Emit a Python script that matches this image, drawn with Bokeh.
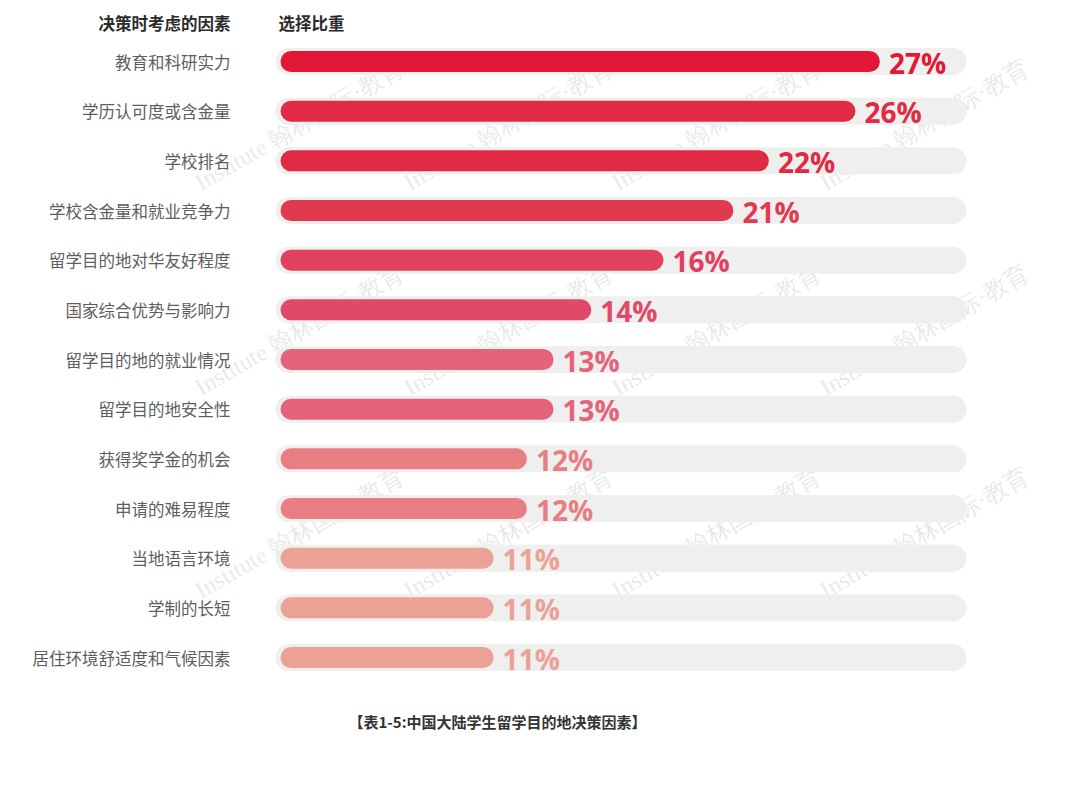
from bokeh.plotting import figure
from bokeh.models import Range1d, ColumnDataSource
from bokeh.core.properties import value
from bokeh.embed import file_html
from bokeh.resources import INLINE
import math

# ---------------- data ----------------
factors = ["教育和科研实力", "学历认可度或含金量", "学校排名", "学校含金量和就业竞争力",
           "留学目的地对华友好程度", "国家综合优势与影响力", "留学目的地的就业情况",
           "留学目的地安全性", "获得奖学金的机会", "申请的难易程度", "当地语言环境",
           "学制的长短", "居住环境舒适度和气候因素"]
pct_labels = ["27%", "26%", "22%", "21%", "16%", "14%", "13%", "13%", "12%", "12%", "11%", "11%", "11%"]
# bar lengths as drawn in the picture (percentage units)
bar_len = [27.0, 25.9, 22.0, 20.4, 17.25, 14.0, 12.3, 12.3, 11.1, 11.1, 9.6, 9.6, 9.6]
colors = ["#E31837", "#E12A43", "#E12A43", "#E03A51", "#E2405F", "#E04A68", "#E5637A",
          "#E5637A", "#E77E84", "#E77E84", "#EBA194", "#EBA194", "#EBA194"]
track_max = 30.9
header_left = "决策时考虑的因素"
header_right = "选择比重"
caption = "【表1-5:中国大陆学生留学目的地决策因素】"
watermark = "Institute 翰林国际·教育"

# ---------------- layout ----------------
W, H = 1080, 791
PX_PER_UNIT = 22.2
X0 = 280.0
ROW0, ROW_STEP = 61.0, 49.67

def xu(px):
    return (px - X0) / PX_PER_UNIT

def yu(px):
    return (px - ROW0) / ROW_STEP

p = figure(width=W, height=H, output_backend="svg", toolbar_location=None,
           x_range=Range1d(xu(0), xu(W)), y_range=Range1d(yu(H), yu(0)),
           min_border=0, min_border_left=0, min_border_right=0,
           min_border_top=0, min_border_bottom=0)
p.axis.visible = False
p.grid.visible = False
p.outline_line_color = None
p.background_fill_color = "white"
p.border_fill_color = "white"

rows = list(range(len(factors)))

# watermark (faint, behind everything) - only copies that fit inside the page
wm_x, wm_y = [], []
for r_px in [195, 400, 603]:
    for c_px in [203, 412, 620, 828]:
        wm_x.append(xu(c_px))
        wm_y.append(yu(r_px))
p.text(x=wm_x, y=wm_y, text=[watermark] * len(wm_x), angle=math.radians(30),
       text_font=value("Liberation Serif"), text_font_size="24px",
       text_color="#9a9a9a", text_alpha=0.22, text_baseline="bottom", text_align="left")

src = ColumnDataSource(dict(y=rows, factor=factors, lab=pct_labels, bl=bar_len,
                            col=colors, tmax=[track_max] * len(rows),
                            tmin=[xu(275)] * len(rows)))

# background tracks
p.hbar(y="y", left="tmin", right="tmax", height=27 / ROW_STEP, source=src,
       fill_color="#EFEFEF", line_color=None, border_radius=14)
# bars
p.hbar(y="y", left=0, right="bl", height=21 / ROW_STEP, source=src,
       fill_color="col", line_color=None, border_radius=11)

# value labels
p.text(x="bl", y="y", text="lab", source=src, x_offset=9, y_offset=1,
       text_align="left", text_baseline="middle",
       text_font=value("Open Sans"), text_font_style="bold", text_font_size="28px",
       text_color="col")

# category labels
p.text(x=[xu(230)] * len(rows), y=rows, text=factors, text_align="right",
       text_baseline="middle", text_font=value("Noto Sans CJK SC"),
       text_font_size="16.5px", text_color="#5e5e5e")

# headers
p.text(x=[xu(230)], y=[yu(22)], text=[header_left], text_align="right",
       text_baseline="middle", text_font=value("Noto Sans CJK SC"),
       text_font_style="bold", text_font_size="16.5px", text_color="#2b2b2b")
p.text(x=[xu(278)], y=[yu(22)], text=[header_right], text_align="left",
       text_baseline="middle", text_font=value("Noto Sans CJK SC"),
       text_font_style="bold", text_font_size="16.5px", text_color="#2b2b2b")

# caption
p.text(x=[xu(497)], y=[yu(721)], text=[caption], text_align="center",
       text_baseline="middle", text_font=value("Noto Sans CJK SC"),
       text_font_style="bold", text_font_size="15px", text_color="#333333")

open("out.html", "w").write(file_html(p, INLINE))
